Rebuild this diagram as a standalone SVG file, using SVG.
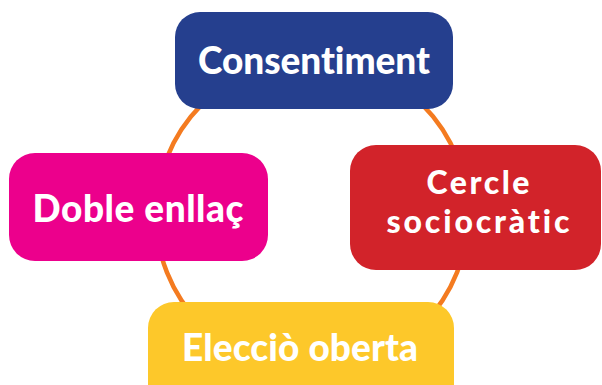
<svg xmlns="http://www.w3.org/2000/svg" width="602" height="385" viewBox="0 0 602 385">
<style>
.lbl{font-family:Lato,"Liberation Sans",sans-serif;font-weight:900;fill:#ffffff;text-anchor:middle;font-variant-ligatures:none;}
.ring{fill:none;stroke:#F47B20;stroke-width:4.5;}
</style>
<rect width="602" height="385" fill="#ffffff"/>
<g id="connectors">
<circle class="ring" cx="312" cy="215" r="156"/>
</g>
<g id="consentiment">
<rect x="175" y="12" width="278" height="97" rx="25" fill="#253F8E"/>
<text class="lbl" x="314" y="74" font-size="37" textLength="232">Consentiment</text>
</g>
<g id="doble-enllac">
<rect x="9" y="153" width="259" height="108" rx="26" fill="#EC008C"/>
<text class="lbl" x="138" y="222" font-size="37" textLength="211">Doble enllaç</text>
</g>
<g id="cercle-sociocratic">
<rect x="350" y="145" width="251" height="125" rx="26" fill="#D2232A"/>
<text class="lbl" x="478" y="194" font-size="32" textLength="103">Cercle</text>
<text class="lbl" x="478" y="233" font-size="32" textLength="183">sociocràtic</text>
</g>
<g id="eleccio-oberta">
<rect x="148" y="302" width="306" height="110" rx="26" fill="#FDC82A"/>
<text class="lbl" x="300" y="361" font-size="37" textLength="236">Elecciò oberta</text>
</g>
</svg>
